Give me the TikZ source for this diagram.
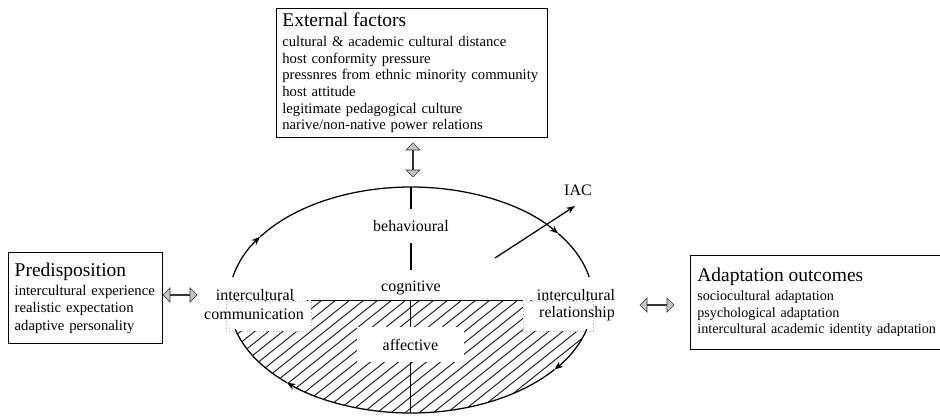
\documentclass[tikz,border=0pt]{standalone}
\usepackage{fontspec}
\setmainfont{Liberation Serif}
\usetikzlibrary{arrows.meta,shapes.arrows,calc}

\newcommand\boxhead[1]{{\fontsize{14.6}{16}\selectfont #1}}

\begin{document}
\begin{tikzpicture}[x=0.75pt,y=-0.75pt,
  every node/.style={inner sep=0pt},
  infobox/.style={draw, line width=0.6pt, anchor=north west, align=left,
    font=\fontsize{11}{12.45}\selectfont},
  elltext/.style={font=\fontsize{12}{14}\selectfont},
  ring/.style={line width=0.95pt},
  ringarrow/.style={ring, -{Stealth[length=6.5pt,width=5pt]}},
  axisline/.style={line width=0.95pt},
  hatch/.style={line width=0.6pt},
  gapbox/.style={draw=gray!60, dotted, fill=white, line width=0.5pt},
  dblarrow/.style={double arrow, draw=gray!40!black, fill=gray!45, line width=0.5pt,
    minimum height=25.5pt, minimum width=10.5pt, double arrow head extend=3pt},
]
\useasboundingbox (0,0) rectangle (940,418);

% centre of the ring (semi-axes 182 and 113)
\coordinate (C) at (411,300);

% hatched lower half
\begin{scope}
  \clip (C) ++(0:182 and 113) arc[start angle=0, end angle=180, x radius=182, y radius=113] -- cycle;
  \foreach \k in {0,...,40}
    \draw[hatch] (60+\k*14,420) -- ++(250,-200);
\end{scope}

% cut-outs in the hatching
\node[gapbox, minimum width=63.75pt, minimum height=22.5pt] (comm) at (268.5,316) {};
\node[gapbox, minimum width=52.5pt, minimum height=22.5pt] (rel) at (558,316) {};
\node[elltext, fill=white, minimum width=80.25pt, minimum height=26.25pt] (aff) at (410.5,344.5) {affective};

% dividing line
\draw[axisline] (comm.north east) -- (rel.north west);

% upper arc, clockwise
\draw[ringarrow] (C) ++(191.7:182 and 113) arc[start angle=191.7, end angle=214, x radius=182, y radius=113];
\draw[ringarrow] (C) ++(214:182 and 113) arc[start angle=214, end angle=324, x radius=182, y radius=113];
\draw[ring] (C) ++(324:182 and 113) arc[start angle=324, end angle=348.3, x radius=182, y radius=113];
% lower arc, clockwise
\draw[ringarrow] (C) ++(15:182 and 113) arc[start angle=15, end angle=38, x radius=182, y radius=113];
\draw[ringarrow] (C) ++(38:182 and 113) arc[start angle=38, end angle=133, x radius=182, y radius=113];
\draw[ring] (C) ++(133:182 and 113) arc[start angle=133, end angle=165, x radius=182, y radius=113];

% labels inside the ring
\node[elltext, minimum height=24.75pt] (behav) at (411,226) {behavioural};
\node[elltext, minimum height=27pt] (cog) at (411,288) {cognitive};
\node[elltext] (icL) at (255,295) {intercultural};
\node[elltext] (icL2) at (254,314) {communication};
\node[elltext] (icR) at (576,295) {intercultural};
\node[elltext] (icR2) at (577,314) {relationship};

% vertical axis
\coordinate (top) at (411,187);
\coordinate (mid) at (410.5,301);
\coordinate (bot) at (410.5,413);
\draw[axisline] (top) -- (behav.north);
\draw[axisline] (behav.south) -- (cog.north);
\draw[axisline] (mid) -- (aff.north);
\draw[axisline] (aff.south) -- (bot);

% IAC arrow
\node[elltext] (iac) at (578,190) {IAC};
\coordinate (iacs) at (495,258);
\coordinate (iace) at (575,206);
\draw[ringarrow] (iacs) -- (iace);

% factor boxes
\node[infobox, minimum width=203.25pt, minimum height=96.75pt, text width=194.25pt, inner xsep=4.5pt] (ext) at (276,8)
  {\boxhead{External factors}\\[2.5pt]
   cultural \& academic cultural distance\\
   host conformity pressure\\
   pressnres from ethnic minority community\\
   host attitude\\
   legitimate pedagogical culture\\
   narive/non-native power relations};

\node[infobox, font=\fontsize{11}{13.1}\selectfont, minimum width=115.5pt, minimum height=68.25pt, text width=106pt, inner xsep=4.75pt] (pre) at (8,252)
  {\boxhead{Predisposition}\\[1.1pt]
   \mbox{intercultural experience}\\
   realistic expectation\\
   adaptive personality};

\node[infobox, font=\fontsize{10.6}{12.4}\selectfont, minimum width=202.5pt, minimum height=70.5pt, text width=192pt, inner xsep=5.25pt] (out) at (690,255)
  {\boxhead{Adaptation outcomes}\\[1.85pt]
   sociocultural adaptation\\
   psychological adaptation\\
   intercultural academic identity adaptation};

% two-way links
\node[dblarrow] (arrL) at (180,295) {};
\node[dblarrow] (arrR) at (657,305) {};
\node[dblarrow, rotate=90] (arrT) at (413,160) {};
\end{tikzpicture}
\end{document}
